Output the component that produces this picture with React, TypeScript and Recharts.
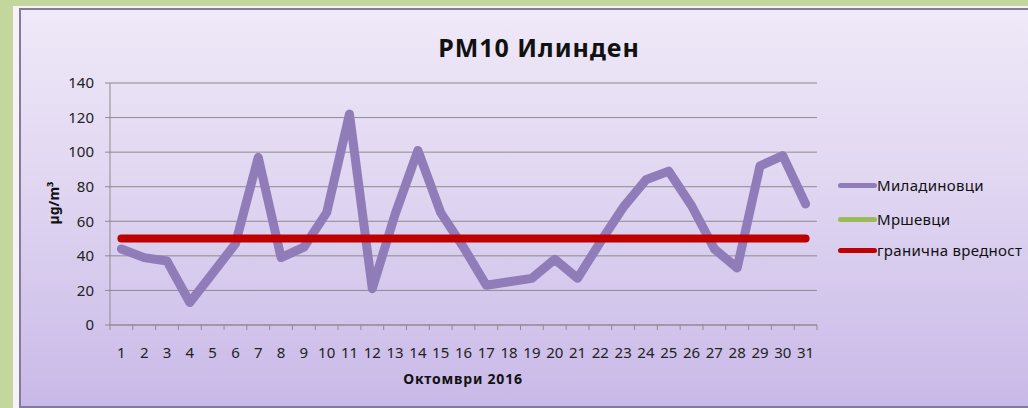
import { LineChart, Line, XAxis, YAxis, CartesianGrid } from 'recharts';

const days = ['1', '2', '3', '4', '5', '6', '7', '8', '9', '10', '11', '12', '13', '14', '15', '16', '17', '18', '19', '20', '21', '22', '23', '24', '25', '26', '27', '28', '29', '30', '31'];
const miladinovci = [44, 39, 37, 13, 30, 47, 97, 39, 45, 65, 122, 21, 64, 101, 65, 45, 23, 25, 27, 38, 27, 48, 68, 84, 89, 69, 44, 33, 92, 98, 70];
const mrshevci: (number | null)[] = [];
const granica = [50, 50, 50, 50, 50, 50, 50, 50, 50, 50, 50, 50, 50, 50, 50, 50, 50, 50, 50, 50, 50, 50, 50, 50, 50, 50, 50, 50, 50, 50, 50];
const yTicks = [0, 20, 40, 60, 80, 100, 120, 140];

const data = days.map((d, i) => ({
  day: d,
  miladinovci: miladinovci[i],
  mrshevci: mrshevci[i] ?? null,
  granica: granica[i],
}));

const FONT = '"Noto Sans", "DejaVu Sans", sans-serif';
const PURPLE = '#8f7cb8';
const GREEN = '#9bbb59';
const RED = '#c00000';

// plot area: x 110..817, so one category is ~22.8px wide
const BAND = (817 - 110) / days.length;

function DayTick(props: any) {
  const { x, y, payload, index } = props;
  const half = BAND / 2;
  return (
    <g>
      <line x1={x - half} y1={y} x2={x - half} y2={y + 5} stroke="#8c8c8c" />
      {index === days.length - 1 && <line x1={x + half} y1={y} x2={x + half} y2={y + 5} stroke="#8c8c8c" />}
      <text x={x} y={y + 33} textAnchor="middle" fontSize={15} fill="#222" fontFamily={FONT}>
        {payload.value}
      </text>
    </g>
  );
}

const legendItems = [
  { name: 'Миладиновци', color: PURPLE, top: 185 },
  { name: 'Мршевци', color: GREEN, top: 219 },
  { name: 'гранична вредност', color: RED, top: 250 },
];

export default function App() {
  return (
    <div style={{ position: 'fixed', left: 0, top: 0, width: 1028, height: 408, background: '#c3d69b', overflow: 'hidden', fontFamily: FONT }}>
      <div style={{ position: 'absolute', left: 13, top: 6, width: 1100, height: 420, background: '#f6f3f8' }} />
      <div
        style={{
          position: 'absolute',
          left: 19,
          top: 8,
          width: 1100,
          height: 396,
          border: '2px solid #857a9a',
          background: 'linear-gradient(to bottom, #efe9f8 0%, #e0d6f1 45%, #c9b9e8 100%)',
        }}
      />
      <div style={{ position: 'absolute', left: 0, top: 0 }}>
        <LineChart width={1028} height={408} data={data} margin={{ top: 83, right: 211, bottom: 23, left: 50 }}>
          <CartesianGrid vertical={false} stroke="#8c8c8c" strokeWidth={1} />
          <XAxis
            dataKey="day"
            height={60}
            interval={0}
            padding={{ left: BAND / 2, right: BAND / 2 }}
            tickSize={0}
            tickMargin={0}
            tickLine={false}
            axisLine={{ stroke: '#8c8c8c' }}
            tick={<DayTick />}
          />
          <YAxis
            width={60}
            domain={[0, 140]}
            ticks={yTicks}
            tickSize={5}
            tickMargin={11}
            tickLine={{ stroke: '#8c8c8c' }}
            axisLine={{ stroke: '#8c8c8c' }}
            tick={{ fontSize: 15, fill: '#222', fontFamily: FONT }}
          />
          <Line
            dataKey="miladinovci"
            stroke={PURPLE}
            strokeWidth={9}
            strokeLinecap="round"
            strokeLinejoin="round"
            dot={false}
            isAnimationActive={false}
          />
          <Line dataKey="mrshevci" stroke={GREEN} strokeWidth={8} dot={false} isAnimationActive={false} />
          <Line
            dataKey="granica"
            stroke={RED}
            strokeWidth={8}
            strokeLinecap="round"
            dot={false}
            isAnimationActive={false}
          />
        </LineChart>
      </div>
      <div style={{ position: 'absolute', left: 539, top: 47, transform: 'translate(-50%, -50%)', fontSize: 25, fontWeight: 700, letterSpacing: 1, color: '#111', whiteSpace: 'nowrap' }}>
        PM10 Илинден
      </div>
      <div
        style={{
          position: 'absolute',
          left: 53,
          top: 203,
          transform: 'translate(-50%, -50%) rotate(-90deg)',
          fontSize: 14,
          fontWeight: 700,
          color: '#111',
          whiteSpace: 'nowrap',
        }}
      >
        µg/m³
      </div>
      <div style={{ position: 'absolute', left: 463, top: 378, transform: 'translate(-50%, -50%)', fontSize: 14, fontWeight: 700, letterSpacing: 0.8, color: '#111', whiteSpace: 'nowrap' }}>
        Октомври 2016
      </div>
      {legendItems.map((it) => (
        <div key={it.name} style={{ position: 'absolute', left: 838, top: it.top, transform: 'translateY(-50%)', display: 'flex', alignItems: 'center' }}>
          <div style={{ width: 39, height: 5, borderRadius: 3, background: it.color }} />
          <span style={{ fontSize: 15, letterSpacing: 0.3, color: '#111', whiteSpace: 'nowrap' }}>{it.name}</span>
        </div>
      ))}
    </div>
  );
}
